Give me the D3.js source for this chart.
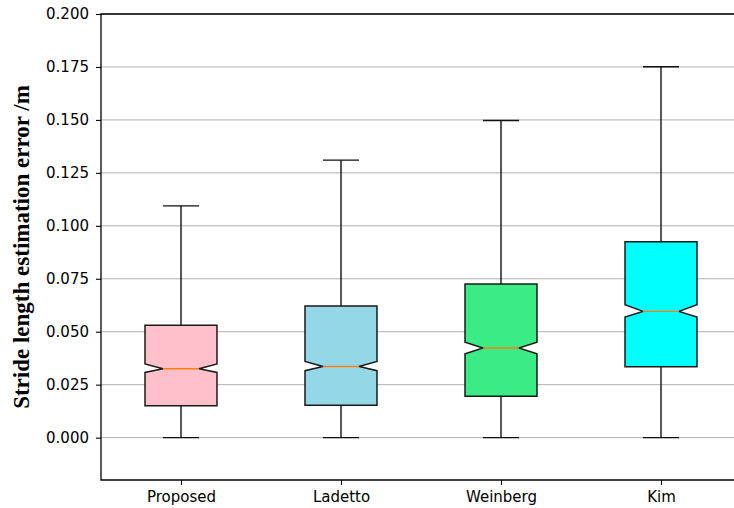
<!DOCTYPE html>
<html>
<head>
<meta charset="utf-8">
<script src="https://d3js.org/d3.v7.min.js"></script>
<style>
body { margin: 0; background: #fff; }
</style>
</head>
<body>
<script>
var categories = ["Proposed", "Ladetto", "Weinberg", "Kim"];
var whiskerLow = [0.0, 0.0, 0.0, 0.0];
var q1 = [0.0150, 0.0153, 0.0195, 0.0335];
var median = [0.0325, 0.0336, 0.0423, 0.0596];
var q3 = [0.0530, 0.0622, 0.0725, 0.0925];
var whiskerHigh = [0.1094, 0.1310, 0.1497, 0.1751];
var notchLow = [0.0308, 0.0316, 0.0396, 0.0569];
var notchHigh = [0.0348, 0.0360, 0.0451, 0.0627];
var boxColors = ["#ffc0cb", "#94d8e8", "#3beb86", "#00ffff"];
var yTicks = [0, 0.025, 0.05, 0.075, 0.1, 0.125, 0.15, 0.175, 0.2];

var w = 734;
var h = 508;
var boxWidth = 0.45;

var svg = d3.select("body")
	.append("svg")
	.attr("width", w)
	.attr("height", h);

var x = d3.scaleLinear().domain([0.5, 4.5]).range([101, 741]);
var y = d3.scaleLinear().domain([-0.02, 0.2]).range([480, 14]);

// grid
svg.selectAll("line.grid")
	.data(yTicks)
	.enter()
	.append("line")
	.attr("class", "grid")
	.attr("x1", 101)
	.attr("x2", 741)
	.attr("y1", function(d) { return y(d); })
	.attr("y2", function(d) { return y(d); })
	.attr("stroke", "#b0b0b0")
	.attr("stroke-width", 1);

var boxes = categories.map(function(c, i) {
	return {
		name: c, pos: i + 1,
		lo: whiskerLow[i], q1: q1[i], med: median[i], q3: q3[i], hi: whiskerHigh[i],
		nlo: notchLow[i], nhi: notchHigh[i], color: boxColors[i]
	};
});

var g = svg.selectAll("g.box")
	.data(boxes)
	.enter()
	.append("g")
	.attr("class", "box");

// whiskers
g.append("line")
	.attr("x1", function(d) { return x(d.pos); })
	.attr("x2", function(d) { return x(d.pos); })
	.attr("y1", function(d) { return y(d.lo); })
	.attr("y2", function(d) { return y(d.q1); })
	.attr("stroke", "#111").attr("stroke-width", 1.4);
g.append("line")
	.attr("x1", function(d) { return x(d.pos); })
	.attr("x2", function(d) { return x(d.pos); })
	.attr("y1", function(d) { return y(d.q3); })
	.attr("y2", function(d) { return y(d.hi); })
	.attr("stroke", "#111").attr("stroke-width", 1.4);

// caps
["lo", "hi"].forEach(function(k) {
	g.append("line")
		.attr("x1", function(d) { return x(d.pos - boxWidth / 4); })
		.attr("x2", function(d) { return x(d.pos + boxWidth / 4); })
		.attr("y1", function(d) { return y(d[k]); })
		.attr("y2", function(d) { return y(d[k]); })
		.attr("stroke", "#111").attr("stroke-width", 1.4);
});

// notched box
g.append("path")
	.attr("d", function(d) {
		var l = x(d.pos - boxWidth / 2), r = x(d.pos + boxWidth / 2);
		var il = x(d.pos - boxWidth / 4), ir = x(d.pos + boxWidth / 4);
		var pts = [
			[l, y(d.q1)], [r, y(d.q1)], [r, y(d.nlo)], [ir, y(d.med)], [r, y(d.nhi)],
			[r, y(d.q3)], [l, y(d.q3)], [l, y(d.nhi)], [il, y(d.med)], [l, y(d.nlo)]
		];
		return d3.line()(pts) + "Z";
	})
	.attr("fill", function(d) { return d.color; })
	.attr("stroke", "#1a1a1a")
	.attr("stroke-width", 1.5)
	.attr("stroke-linejoin", "miter");

// median
g.append("line")
	.attr("x1", function(d) { return x(d.pos - boxWidth / 4); })
	.attr("x2", function(d) { return x(d.pos + boxWidth / 4); })
	.attr("y1", function(d) { return y(d.med); })
	.attr("y2", function(d) { return y(d.med); })
	.attr("stroke", "#ff7f0e").attr("stroke-width", 1.4);

// axes
var yAxis = svg.append("g")
	.attr("transform", "translate(101,0)")
	.call(d3.axisLeft(y).tickValues(yTicks).tickFormat(d3.format(".3f")).tickSizeOuter(0).tickSize(5).tickPadding(7));
var xAxis = svg.append("g")
	.attr("transform", "translate(0,480)")
	.call(d3.axisBottom(x).tickValues([1, 2, 3, 4]).tickFormat(function(d) { return categories[d - 1]; }).tickSizeOuter(0).tickSize(5).tickPadding(6));

[yAxis, xAxis].forEach(function(a) {
	a.selectAll("text")
		.attr("font-family", "DejaVu Sans")
		.attr("font-size", "15px")
		.attr("fill", "#000");
	a.selectAll("line").attr("stroke", "#000").attr("stroke-width", 1.1);
	a.select(".domain").remove();
});

// spines
svg.append("path")
	.attr("d", "M741,14H101V480H741")
	.attr("fill", "none")
	.attr("stroke", "#000").attr("stroke-width", 1.3);

// y label
svg.append("text")
	.attr("transform", "translate(29,247) rotate(-90)")
	.attr("text-anchor", "middle")
	.attr("font-family", "Liberation Serif")
	.attr("font-weight", "bold")
	.attr("font-size", "23px")
	.text("Stride length estimation error /m");
</script>
</body>
</html>
